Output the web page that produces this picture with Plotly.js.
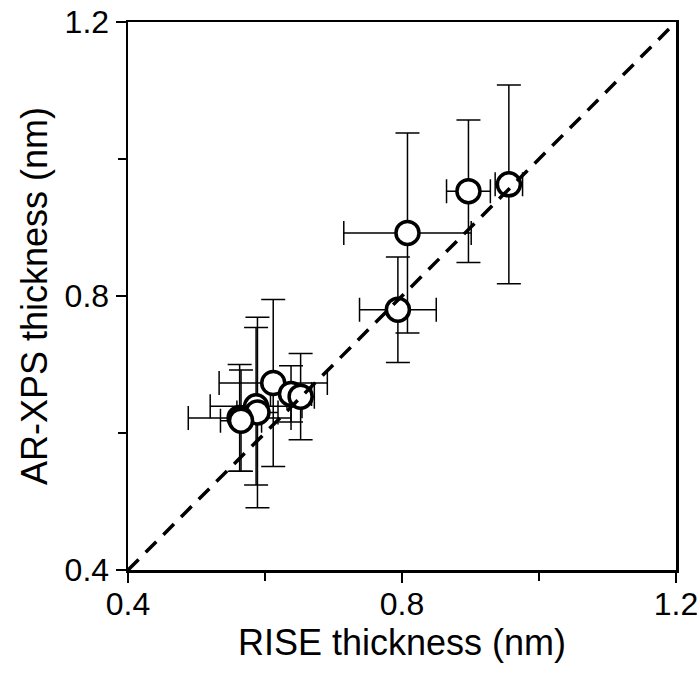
<!DOCTYPE html>
<html>
<head>
<meta charset="utf-8">
<script src="https://cdn.plot.ly/plotly-3.0.1.min.js"></script>
<style>html,body{margin:0;padding:0;background:#fff;}#chart{width:699px;height:678px;}</style>
</head>
<body>
<div id="chart"></div>
<script>
// RISE thickness (nm) vs AR-XPS thickness (nm)
const rise     = [0.808, 0.794, 0.897, 0.956, 0.612, 0.638, 0.652, 0.587, 0.589, 0.563, 0.565];
const arxps    = [0.892, 0.780, 0.953, 0.963, 0.673, 0.657, 0.653, 0.639, 0.630, 0.622, 0.618];
const riseErr  = [0.093, 0.056, 0.032, 0.020, 0.079, 0.030, 0.020, 0.067, 0.030, 0.075, 0.030];
const arxpsErr = [0.146, 0.077, 0.104, 0.145, 0.122, 0.041, 0.063, 0.115, 0.139, 0.078, 0.074];
const diagonal = [0.4, 1.2];
const tickVals = [0.4, 0.8, 1.2];
const tickText = ['0.4', '0.8', '1.2'];

const font = '"Liberation Sans", Arial, sans-serif';

const traces = [
  {
    type: 'scatter', mode: 'markers',
    x: rise, y: arxps,
    error_x: {type: 'data', array: riseErr, visible: true, color: '#000', thickness: 1.5, width: 12},
    error_y: {type: 'data', array: arxpsErr, visible: true, color: '#000', thickness: 1.5, width: 12},
    marker: {symbol: 'circle', size: 23, color: '#fff', line: {color: '#000', width: 3.5}},
    showlegend: false, hoverinfo: 'x+y'
  },
  {
    type: 'scatter', mode: 'lines',
    x: diagonal, y: diagonal,
    line: {color: '#000', width: 3.5, dash: '15px,10px'},
    showlegend: false, hoverinfo: 'skip'
  }
];

const axisCommon = {
  range: [0.4, 1.2],
  tickmode: 'array', tickvals: tickVals, ticktext: tickText,
  ticks: 'outside', ticklen: 10, tickwidth: 2, tickcolor: '#000',
  minor: {tickmode: 'array', tickvals: [0.6, 1.0], ticks: 'outside', ticklen: 8, tickwidth: 2, tickcolor: '#000'},
  showline: true, linecolor: '#000', linewidth: 2.5, mirror: true,
  showgrid: false, zeroline: false,
  tickfont: {family: font, size: 32, color: '#000'},
  automargin: false
};

const layout = {
  width: 699, height: 678,
  margin: {l: 128, r: 23, t: 22, b: 108},
  paper_bgcolor: '#fff', plot_bgcolor: '#fff',
  xaxis: Object.assign({}, axisCommon, {
    ticklabelstandoff: -6,
    title: {text: 'RISE thickness (nm)', font: {family: font, size: 36, color: '#000'}, standoff: 8}
  }),
  yaxis: Object.assign({}, axisCommon, {
    title: {text: 'AR-XPS thickness (nm)', font: {family: font, size: 36, color: '#000'}, standoff: 6}
  })
};

Plotly.newPlot('chart', traces, layout, {displayModeBar: false, staticPlot: true});
</script>
</body>
</html>
